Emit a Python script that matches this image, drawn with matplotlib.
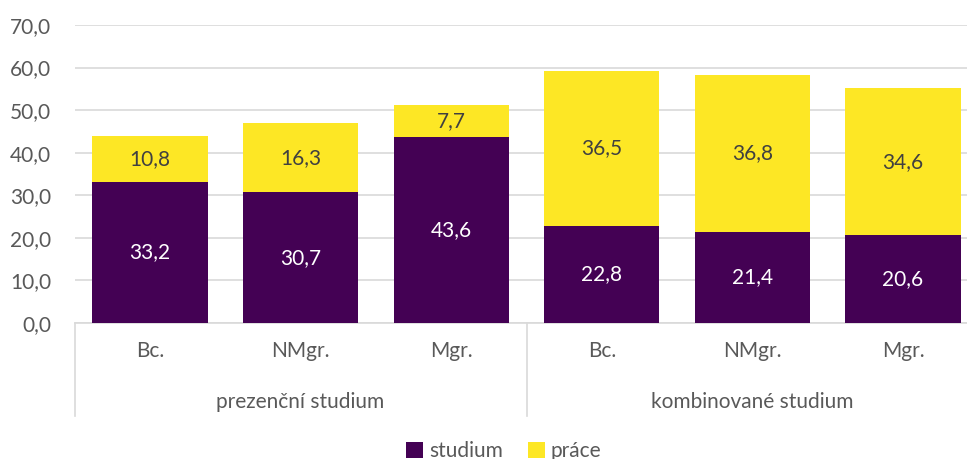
import matplotlib.pyplot as plt
import numpy as np

categories = ["Bc.", "NMgr.", "Mgr.", "Bc.", "NMgr.", "Mgr."]
groups = ["prezenční studium", "kombinované studium"]
studium = [33.2, 30.7, 43.6, 22.8, 21.4, 20.6]
prace = [10.8, 16.3, 7.7, 36.5, 36.8, 34.6]

purple = '#440154'
yellow = '#FDE725'
gray = '#595959'
fs = 15

plt.rcParams['font.family'] = ['Lato', 'DejaVu Sans']

fig = plt.figure(figsize=(9.67, 4.59), dpi=100)
# plot area runs a bit past the right edge, like the original
ax = fig.add_axes([74.7/967, (459-323)/459, 903.6/967, 298/459])

x = np.arange(len(categories))
ax.bar(x, studium, width=0.765, color=purple, label='studium', zorder=3)
ax.bar(x, prace, width=0.765, bottom=studium, color=yellow, label='práce', zorder=3)

for i in range(len(x)):
    ax.text(x[i], studium[i] / 2, f"{studium[i]:.1f}".replace('.', ','),
            ha='center', va='center', color='white', fontsize=fs, zorder=4)
    ax.text(x[i], studium[i] + prace[i] / 2, f"{prace[i]:.1f}".replace('.', ','),
            ha='center', va='center', color='#404040', fontsize=fs, zorder=4)

ax.set_xlim(-0.5, len(x) - 0.5)
ax.set_ylim(0, 70)
ax.set_yticks(np.arange(0, 71, 10))
ax.set_yticklabels([f"{v:.1f}".replace('.', ',') for v in np.arange(0, 71, 10)])
ax.yaxis.grid(True, color='#d9d9d9', linewidth=1.2, zorder=0)
ax.tick_params(axis='y', length=0, pad=17, labelsize=fs, labelcolor=gray)
ax.set_xticks(x)
ax.set_xticklabels(categories)
ax.tick_params(axis='x', length=0, pad=13, labelsize=fs, labelcolor=gray)
for s in ['top', 'right', 'left']:
    ax.spines[s].set_visible(False)
ax.spines['bottom'].set_color('#d9d9d9')
ax.spines['bottom'].set_linewidth(1.2)

# group labels and separators
for g, name in enumerate(groups):
    ax.text(g * 3 + 1, -18.6, name, ha='center', va='center',
            fontsize=fs, color=gray)
for xs in [-0.5, 2.5]:
    ax.plot([xs, xs], [0, -21.8], color='#d9d9d9', linewidth=1.2, clip_on=False)

ax.legend(loc='center', bbox_to_anchor=(0.475, -0.43), ncol=2, frameon=False,
          fontsize=fs, handlelength=0.8, handleheight=0.8, handletextpad=0.3,
          columnspacing=1.2, labelcolor=gray)

fig.savefig('out.png', dpi=100)
